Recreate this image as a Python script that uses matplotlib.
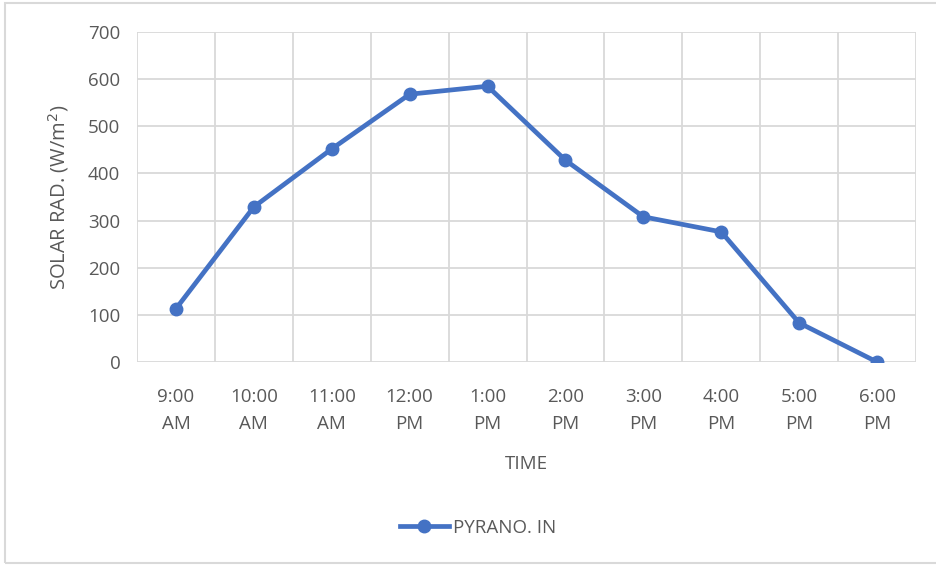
import matplotlib
matplotlib.use("Agg")
import matplotlib.pyplot as plt
from matplotlib.patches import Rectangle
from matplotlib.lines import Line2D

plt.rcParams['font.family'] = ['Open Sans', 'DejaVu Sans']

times = ["9:00\nAM", "10:00\nAM", "11:00\nAM", "12:00\nPM", "1:00\nPM",
         "2:00\nPM", "3:00\nPM", "4:00\nPM", "5:00\nPM", "6:00\nPM"]
pyrano_in = [113, 329, 452, 568, 585, 428, 308, 276, 83, 0]
y_ticks = [0, 100, 200, 300, 400, 500, 600, 700]

blue = "#4472C4"
grid_c = "#D9D9D9"
text_c = "#595959"

fig = plt.figure(figsize=(9.36, 5.65), dpi=100)
fig.patches.append(Rectangle((5 / 936, 2 / 565), 940 / 936, 560 / 565,
                             transform=fig.transFigure, fill=False,
                             edgecolor=grid_c, linewidth=1.5))

ax = fig.add_axes([137 / 936, 203 / 565, 779 / 936, 330 / 565])
x = list(range(len(times)))
ax.plot(x, pyrano_in, color=blue, linewidth=3.4, marker='o', markersize=9,
        solid_capstyle='round', zorder=3)

ax.set_xlim(-0.5, len(times) - 0.5)
ax.set_ylim(0, 700)
ax.set_yticks(y_ticks)
ax.set_xticks(x)
ax.set_xticklabels(times)
ax.set_xticks([i + 0.5 for i in range(-1, len(times))], minor=True)
ax.grid(True, axis='y', color=grid_c, linewidth=1.3)
ax.grid(True, axis='x', which='minor', color=grid_c, linewidth=1.3)
ax.grid(False, axis='x', which='major')
for s in ax.spines.values():
    s.set_visible(False)
ax.tick_params(axis='both', which='both', length=0, labelsize=13.5,
               labelcolor=text_c)
ax.tick_params(axis='x', pad=19)
ax.tick_params(axis='y', pad=12)
for lab in ax.get_xticklabels():
    lab.set_linespacing(1.6)

ax.set_ylabel("SOLAR RAD. (W/m$^2$)", fontsize=14.5, color=text_c, labelpad=12)
ax.set_xlabel("TIME", fontsize=13.5, color=text_c, labelpad=16)

handle = Line2D([], [], color=blue, linewidth=3.4, marker='o', markersize=9)
fig.legend([handle], ["PYRANO. IN"], loc='center', bbox_to_anchor=(478 / 936, 1 - 528 / 565),
           frameon=False, fontsize=13.5, labelcolor=text_c, handlelength=2.6,
           handletextpad=0.2)

fig.savefig("out.png", dpi=100)
